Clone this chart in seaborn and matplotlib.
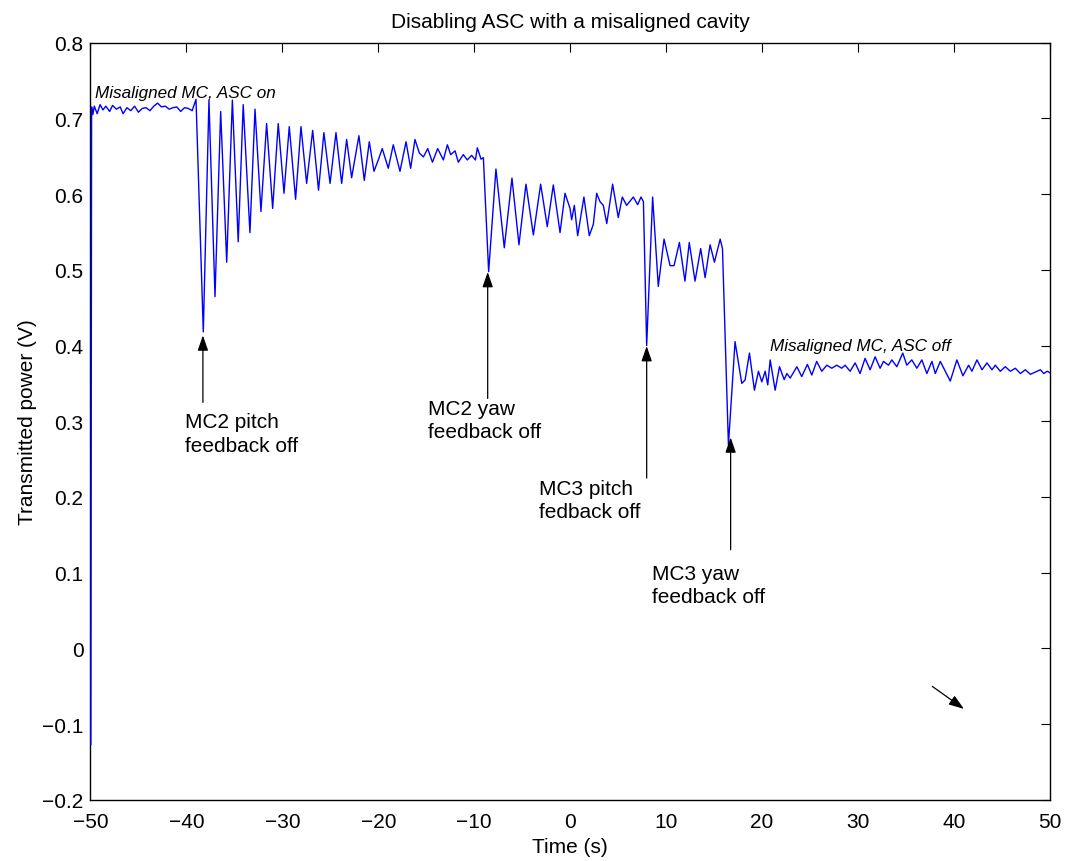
import numpy as np
import pandas as pd
import matplotlib
matplotlib.use("Agg")
import matplotlib.pyplot as plt
import seaborn as sns

# ---- data ----
time_s = [
    -49.96, -49.88, -49.75,
    -49.6, -49.3, -49.0, -48.7, -48.4, -48.0, -47.7, -47.3, -46.9, -46.6,
    -46.2, -45.8, -45.4, -45.0, -44.6, -44.2, -43.8, -43.4, -43.0, -42.6,
    -42.2, -41.8, -41.4, -41.0, -40.6, -40.2, -39.8, -39.4, -39.0,
    -38.24, -37.65, -37.02, -36.43, -35.80, -35.21, -34.6, -34.08, -33.38,
    -32.85, -32.23, -31.64, -31.01, -30.43, -29.83, -29.28, -28.62, -28.06,
    -27.47, -26.84, -26.23, -25.67, -25.03, -24.41, -23.82, -23.30, -22.78,
    -22.02, -21.46, -20.94, -20.45, -20.0, -19.59, -18.96, -18.44, -17.74,
    -17.11, -16.63, -16.18, -15.72, -15.30, -14.85, -14.36, -13.81, -13.22,
    -12.80, -12.46, -12.0, -11.66, -11.14, -10.73, -10.27, -9.88, -9.68,
    -9.29, -9.05,
    -8.5, -7.74, -6.87, -6.07, -5.34, -4.61, -3.84, -3.08, -2.39, -1.76,
    -1.06, -0.54, -0.02, 0.15, 0.43, 0.78, 1.43, 1.99, 2.41, 2.76, 3.10,
    3.45, 3.81, 4.42, 5.01, 5.43, 5.88, 6.58, 7.03, 7.38, 7.63,
    7.97, 8.59, 9.18, 9.78, 10.41, 10.82, 11.38, 11.96, 12.41, 13.01, 13.60,
    14.06, 14.58, 15.03, 15.63, 15.87,
    16.49, 17.18, 17.88, 18.23, 18.68, 19.2, 19.62, 19.97, 20.32, 20.59,
    20.84, 21.36, 21.81, 22.3, 22.58, 22.93, 23.62, 24.13, 24.72, 25.18,
    25.69, 26.22, 26.74, 27.26, 27.78, 28.3, 28.65, 29.17, 29.7, 30.21,
    30.73, 31.26, 31.78, 32.3, 32.65, 33.17, 33.52, 34.04, 34.66, 35.08,
    35.6, 36.13, 36.65, 37.17, 37.7, 38.05, 38.57, 39.61, 40.3, 40.93,
    41.52, 41.87, 42.39, 42.92, 43.44, 43.96, 44.31, 44.82, 45.35, 45.87,
    46.39, 46.92, 47.44, 47.96, 48.49, 49.01, 49.35, 49.71, 50.0,
]
power_v = [
    -0.127, 0.715, 0.705,
    0.716, 0.706, 0.718, 0.711, 0.716, 0.709, 0.717, 0.712, 0.715, 0.706,
    0.714, 0.710, 0.716, 0.708, 0.713, 0.714, 0.710, 0.716, 0.720, 0.715,
    0.716, 0.712, 0.714, 0.715, 0.709, 0.714, 0.713, 0.710, 0.725,
    0.418, 0.724, 0.4645, 0.709, 0.510, 0.724, 0.537, 0.718, 0.549,
    0.712, 0.577, 0.693, 0.581, 0.693, 0.601, 0.689, 0.593, 0.689,
    0.614, 0.684, 0.605, 0.681, 0.614, 0.681, 0.614, 0.672, 0.6215,
    0.677, 0.618, 0.669, 0.630, 0.645, 0.660, 0.634, 0.665, 0.630,
    0.669, 0.634, 0.672, 0.654, 0.649, 0.660, 0.642, 0.660, 0.645,
    0.665, 0.652, 0.657, 0.642, 0.652, 0.645, 0.651, 0.645, 0.661,
    0.646, 0.648,
    0.4975, 0.633, 0.529, 0.621, 0.533, 0.613, 0.546, 0.613, 0.557, 0.612,
    0.549, 0.601, 0.581, 0.566, 0.585, 0.545, 0.596, 0.545, 0.560, 0.601, 0.590,
    0.585, 0.561, 0.613, 0.569, 0.596, 0.585, 0.596, 0.586, 0.596, 0.590,
    0.400, 0.596, 0.478, 0.5405, 0.5054, 0.5054, 0.536, 0.485, 0.536, 0.485, 0.528,
    0.4896, 0.533, 0.510, 0.5405, 0.528,
    0.2687, 0.4051, 0.350, 0.3545, 0.390, 0.341, 0.366, 0.352, 0.366, 0.348,
    0.381, 0.341, 0.372, 0.355, 0.363, 0.357, 0.372, 0.359, 0.375, 0.361,
    0.379, 0.366, 0.374, 0.370, 0.374, 0.370, 0.374, 0.366, 0.377, 0.363,
    0.383, 0.368, 0.385, 0.370, 0.379, 0.374, 0.381, 0.372, 0.390, 0.374,
    0.381, 0.370, 0.381, 0.363, 0.379, 0.363, 0.379, 0.353, 0.381, 0.360,
    0.374, 0.366, 0.381, 0.368, 0.377, 0.368, 0.374, 0.366, 0.372, 0.366,
    0.370, 0.363, 0.368, 0.362, 0.365, 0.368, 0.363, 0.366, 0.364,
]

x_ticks = [-50, -40, -30, -20, -10, 0, 10, 20, 30, 40, 50]
x_tick_labels = ["\u221250", "\u221240", "\u221230", "\u221220", "\u221210",
                 "0", "10", "20", "30", "40", "50"]
y_ticks = [-0.2, -0.1, 0.0, 0.1, 0.2, 0.3, 0.4, 0.5, 0.6, 0.7, 0.8]
y_tick_labels = ["\u22120.2", "\u22120.1", "0", "0.1", "0.2", "0.3",
                 "0.4", "0.5", "0.6", "0.7", "0.8"]

# annotations
event_labels = ["MC2 pitch\nfeedback off", "MC2 yaw\nfeedback off",
                "MC3 pitch\nfedback off", "MC3 yaw\nfeedback off"]
event_text_x = [-40.15, -14.83, -3.26, 8.49]
event_text_y = [0.3116, 0.330, 0.2244, 0.112]
event_arrow_x = [-38.28, -8.6, 7.97, 16.72]
event_arrow_tip = [0.4133, 0.497, 0.3992, 0.2786]
event_arrow_tail = [0.3248, 0.3301, 0.2250, 0.1303]

state_labels = ["Misaligned MC, ASC on", "Misaligned MC, ASC off"]
state_x = [-49.53, 20.82]
state_y = [0.7287, 0.3939]

stray_arrow_tail = (37.73, -0.050)
stray_arrow_tip = (41.04, -0.0798)

# ---- plotting ----
sns.set_style("white")
plt.rcParams["font.family"] = ["Liberation Sans", "DejaVu Sans"]
plt.rcParams["text.color"] = "black"
plt.rcParams["axes.labelcolor"] = "black"
plt.rcParams["xtick.color"] = "black"
plt.rcParams["ytick.color"] = "black"

fig = plt.figure(figsize=(10.68, 8.62), dpi=100)
ax = fig.add_axes([0.0847, 0.0708, 0.9831 - 0.0847, 0.9495 - 0.0708])

df = pd.DataFrame({"Time (s)": time_s, "Transmitted power (V)": power_v})
sns.lineplot(data=df, x="Time (s)", y="Transmitted power (V)", ax=ax,
             estimator=None, sort=False, color="#0000ff", linewidth=1.0,
             zorder=3)

ax.set_xlim(-50, 50)
ax.set_ylim(-0.2, 0.8)
ax.set_xticks(x_ticks)
ax.set_xticklabels(x_tick_labels)
ax.set_yticks(y_ticks)
ax.set_yticklabels(y_tick_labels)
ax.tick_params(axis="both", direction="in", length=6.8, width=0.8,
               top=True, right=True, labelsize=15, colors="black",
               labelcolor="black")
ax.tick_params(axis="x", pad=9)
ax.tick_params(axis="y", pad=5)
for sp in ax.spines.values():
    sp.set_visible(True)
    sp.set_color("black")
    sp.set_linewidth(1.0)

ax.set_xlabel("Time (s)", fontsize=15, labelpad=4, color="black")
ax.set_ylabel("Transmitted power (V)", fontsize=15, color="black")
ax.yaxis.set_label_coords(-0.056, 0.5)
ax.set_title("Disabling ASC with a misaligned cavity", fontsize=15, pad=11.5,
             color="black")

arrow_props = dict(arrowstyle="-|>,head_length=0.46,head_width=0.16",
                   mutation_scale=20, color="black", lw=0.9,
                   shrinkA=0, shrinkB=0)

for lab, tx, ty, axx, tip, tail in zip(event_labels, event_text_x, event_text_y,
                                        event_arrow_x, event_arrow_tip,
                                        event_arrow_tail):
    ax.annotate("", xy=(axx, tip), xytext=(axx, tail), arrowprops=arrow_props)
    ax.text(tx, ty, lab, fontsize=15, ha="left", va="top", linespacing=1.32,
            color="black")

for lab, sx, sy in zip(state_labels, state_x, state_y):
    ax.text(sx, sy, lab, fontsize=12.3, style="italic", ha="left",
            va="baseline", color="black")

ax.annotate("", xy=stray_arrow_tip, xytext=stray_arrow_tail,
            arrowprops=arrow_props)

fig.savefig("out.png", dpi=100)
